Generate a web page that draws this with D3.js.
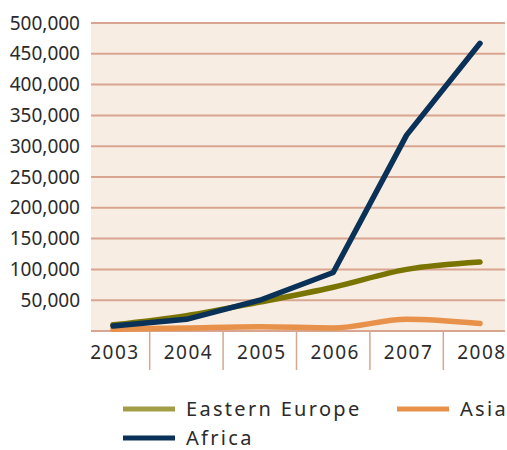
<!DOCTYPE html>
<html><head><meta charset="utf-8">
<script src="https://cdn.jsdelivr.net/npm/d3@7"></script>
<style>body{margin:0;background:#fff}svg{display:block}text{font-family:"Noto Sans",sans-serif;fill:#2b2b2b}</style>
</head><body>
<script>
const years = ["2003","2004","2005","2006","2007","2008"];
const easternEurope = [10000, 25000, 47000, 71000, 100000, 112000];
const asia = [3000, 5000, 7000, 5000, 19000, 12000];
const africa = [8000, 19000, 50000, 95000, 318000, 467000];
const yTicks = [50000,100000,150000,200000,250000,300000,350000,400000,450000,500000];
const seriesNames = ["Eastern Europe","Asia","Africa"];
const lineColors = ["#7a7400","#e8914a","#0a3158"];
const legendColors = ["#a29e47","#e8914a","#0a3158"];

(function(){
const W=507,H=450;
const svg=d3.select("body").append("svg").attr("width",W).attr("height",H);
const pL=91,pR=505,pT=23,pB=331;
const x=d3.scalePoint().domain(years).range([113,480]);
const y=d3.scaleLinear().domain([0,500000]).range([pB,pT]);
svg.append("rect").attr("x",pL).attr("y",pT).attr("width",pR-pL).attr("height",pB-pT).attr("fill","#f8ede3");
const grid=[0].concat(yTicks);
svg.selectAll("line.g").data(grid).enter().append("line")
 .attr("x1",pL).attr("x2",pR).attr("y1",d=>y(d)).attr("y2",d=>y(d))
 .attr("stroke","#d8a690").attr("stroke-width",2);
const fmt=d3.format(",");
svg.selectAll("text.yl").data(yTicks).enter().append("text")
 .attr("x",80).attr("y",d=>y(d)).attr("dy","0.35em").attr("text-anchor","end")
 .attr("font-size",19).text(d=>fmt(d));
const step=x.step();
svg.selectAll("line.sep").data(years.slice(1)).enter().append("line")
 .attr("x1",d=>x(d)-step/2).attr("x2",d=>x(d)-step/2).attr("y1",pB).attr("y2",370)
 .attr("stroke","#d8a690").attr("stroke-width",1.5);
svg.selectAll("text.xl").data(years).enter().append("text")
 .attr("x",d=>x(d)+2).attr("y",359).attr("text-anchor","middle")
 .attr("font-size",19).attr("letter-spacing",1.5).text(d=>d);
const data=[easternEurope,asia,africa];
const curves=[d3.curveMonotoneX,d3.curveMonotoneX,d3.curveLinear];
[1,0,2].forEach(k=>{
 const line=d3.line().x((d,i)=>x(years[i])).y(d=>y(d)).curve(curves[k]);
 svg.append("path").attr("d",line(data[k])).attr("fill","none").attr("stroke",lineColors[k])
  .attr("stroke-width",5.5).attr("stroke-linecap","round").attr("stroke-linejoin","round");
});
const leg=[{k:0,x:123,y:409},{k:1,x:397,y:409},{k:2,x:123,y:438}];
leg.forEach(l=>{
 svg.append("line").attr("x1",l.x).attr("x2",l.x+52).attr("y1",l.y).attr("y2",l.y)
  .attr("stroke",legendColors[l.k]).attr("stroke-width",5);
 svg.append("text").attr("x",l.x+63).attr("y",l.y+7).attr("font-size",20).attr("letter-spacing",2.3).text(seriesNames[l.k]);
});
})();
</script>
</body></html>
